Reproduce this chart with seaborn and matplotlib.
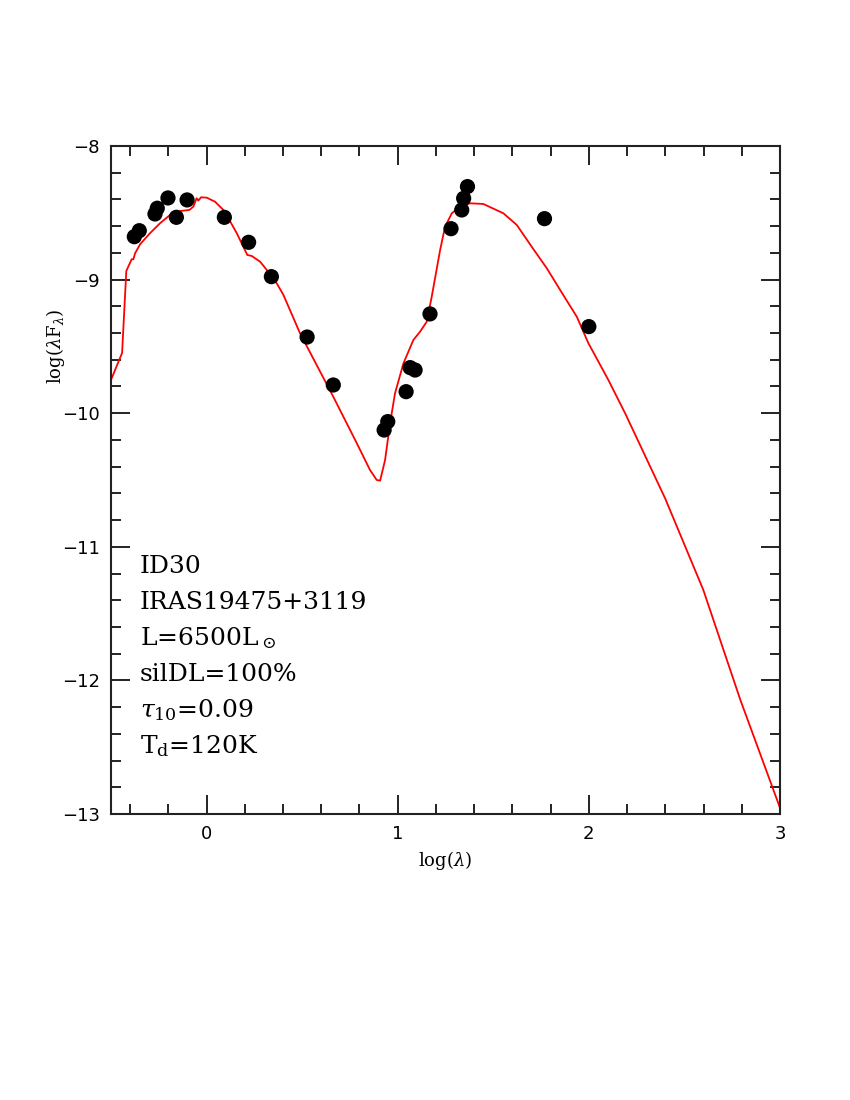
import numpy as np
import pandas as pd
import matplotlib
matplotlib.use("Agg")
import matplotlib.pyplot as plt
import seaborn as sns
from matplotlib.ticker import MultipleLocator

# observed photometry: log(lambda), log(lambda F_lambda)
obs_logl = [-0.378, -0.352, -0.270, -0.258, -0.202, -0.158, -0.102, 0.093,
            0.220, 0.339, 0.526, 0.663, 0.929, 0.948, 1.044, 1.065, 1.091,
            1.169, 1.279, 1.335, 1.345, 1.365, 1.768, 2.000]
obs_logf = [-8.679, -8.634, -8.509, -8.466, -8.389, -8.534, -8.404, -8.534,
            -8.721, -8.978, -9.430, -9.789, -10.126, -10.063, -9.839, -9.659,
            -9.677, -9.257, -8.619, -8.479, -8.392, -8.304, -8.544, -9.352]

# model SED (traced)
mod_logl = [-0.500, -0.442, -0.420, -0.392, -0.383, -0.374, -0.348, -0.296,
            -0.244, -0.191, -0.139, -0.090, -0.069, -0.052, -0.043, -0.029,
            0.001, 0.044, 0.088, 0.114, 0.158, 0.213, 0.236, 0.280, 0.315,
            0.367, 0.402, 0.489, 0.663, 0.786, 0.855, 0.890, 0.908, 0.934,
            0.960, 0.986, 1.030, 1.082, 1.117, 1.152, 1.178, 1.222, 1.248,
            1.283, 1.326, 1.379, 1.448, 1.553, 1.623, 1.701, 1.780, 1.850,
            1.937, 1.998, 2.102, 2.190, 2.399, 2.599, 2.793, 3.001]
mod_logf = [-9.751, -9.549, -8.936, -8.848, -8.848, -8.803, -8.736, -8.653,
            -8.579, -8.516, -8.487, -8.479, -8.454, -8.391, -8.409, -8.384,
            -8.387, -8.417, -8.479, -8.541, -8.653, -8.816, -8.823, -8.866,
            -8.928, -9.028, -9.115, -9.402, -9.877, -10.225, -10.425, -10.500,
            -10.505, -10.350, -10.076, -9.851, -9.627, -9.452, -9.390, -9.315,
            -9.128, -8.778, -8.604, -8.504, -8.454, -8.429, -8.434, -8.504,
            -8.591, -8.754, -8.915, -9.078, -9.278, -9.477, -9.751, -10.001,
            -10.637, -11.323, -12.147, -12.957]

info_lines = ["ID30", "IRAS19475+3119", r"L=6500L$_\odot$", "silDL=100%",
              r"$\tau_{10}$=0.09", r"T$_\mathrm{d}$=120K"]

sns.set_style("ticks")
plt.rcParams["font.family"] = ["DejaVu Serif", "DejaVu Sans"]
plt.rcParams["mathtext.fontset"] = "dejavuserif"
plt.rcParams["text.color"] = "black"
plt.rcParams["axes.labelcolor"] = "black"
plt.rcParams["xtick.labelcolor"] = "black"
plt.rcParams["ytick.labelcolor"] = "black"

fig = plt.figure(figsize=(8.5, 11), dpi=100)
ax = fig.add_axes([0.1306, 0.26, 0.787, 0.6073])

obs = pd.DataFrame({"x": obs_logl, "y": obs_logf})
mod = pd.DataFrame({"x": mod_logl, "y": mod_logf})

sns.lineplot(data=mod, x="x", y="y", sort=False, color="red", lw=1.3, ax=ax)
sns.scatterplot(data=obs, x="x", y="y", color="black", s=120, edgecolor="none",
                ax=ax, zorder=3)

ax.set_xlim(-0.5, 3)
ax.set_ylim(-13, -8)
ax.xaxis.set_major_locator(MultipleLocator(1))
ax.xaxis.set_minor_locator(MultipleLocator(0.2))
ax.yaxis.set_major_locator(MultipleLocator(1))
ax.yaxis.set_minor_locator(MultipleLocator(0.2))
ax.tick_params(which="both", direction="in", top=True, right=True,
               color="#222222", width=1.4, labelsize=13, pad=8)
ax.tick_params(which="major", length=14)
ax.tick_params(which="minor", length=7)
for lab in ax.get_xticklabels() + ax.get_yticklabels():
    lab.set_fontfamily("DejaVu Sans")
for sp in ax.spines.values():
    sp.set_linewidth(1.5)
    sp.set_color("#222222")

ax.set_xlabel(r"log($\lambda$)", fontsize=13, labelpad=4)
ax.set_ylabel(r"log($\lambda$F$_\lambda$)", fontsize=13)
ax.yaxis.set_label_coords(-0.066, 0.70)

for i, line in enumerate(info_lines):
    ax.text(0.043, 0.371 - i * 0.0539, line, transform=ax.transAxes,
            fontsize=18, va="center", ha="left")

fig.savefig("out.png", dpi=100)
